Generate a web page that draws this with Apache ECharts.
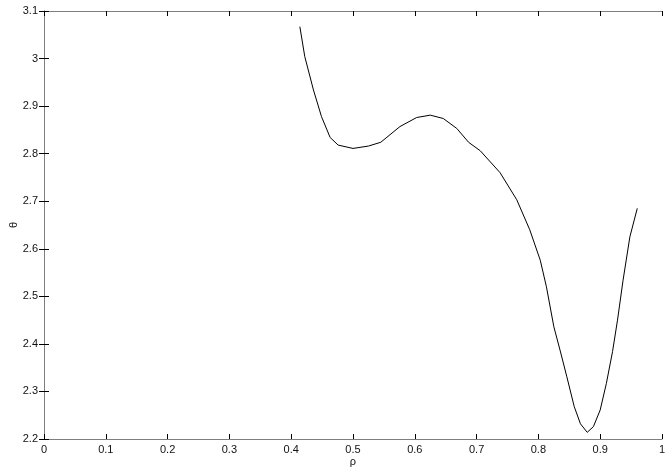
<!DOCTYPE html>
<html>
<head>
<meta charset="utf-8">
<script src="https://cdn.jsdelivr.net/npm/echarts@6/dist/echarts.min.js"></script>
<style>html,body{margin:0;padding:0;background:#fff}#c{width:671px;height:475px}</style>
</head>
<body>
<div id="c"></div>
<script>
var rho = [0.414, 0.422, 0.436, 0.449, 0.463, 0.476, 0.500, 0.525, 0.545, 0.576, 0.603, 0.625, 0.646, 0.668, 0.687, 0.706, 0.738, 0.765, 0.786, 0.803, 0.813, 0.825, 0.835, 0.846, 0.858, 0.868, 0.879, 0.889, 0.900, 0.910, 0.920, 0.928, 0.937, 0.948, 0.960];
var theta = [3.067, 3.004, 2.934, 2.878, 2.834, 2.818, 2.811, 2.816, 2.824, 2.857, 2.876, 2.881, 2.874, 2.853, 2.824, 2.806, 2.760, 2.703, 2.640, 2.576, 2.520, 2.436, 2.387, 2.331, 2.268, 2.232, 2.214, 2.226, 2.261, 2.317, 2.384, 2.450, 2.534, 2.625, 2.685];
var xName = 'ρ';
var yName = 'θ';

var pts = rho.map(function (r, i) { return [r, theta[i]]; });
var font = 'Liberation Sans, Arial, sans-serif';
var lineStyle = { color: '#7f7f7f', width: 1 };
var tickStyle = { color: '#000', width: 1 };

var chart = echarts.init(document.getElementById('c'), null, { renderer: 'canvas' });
chart.setOption({
  animation: false,
  backgroundColor: '#fff',
  grid: { left: 44, right: 9, top: 11, bottom: 36, containLabel: false, outerBoundsMode: 'none' },
  xAxis: [{
    type: 'value', min: 0, max: 1, interval: 0.1, position: 'bottom',
    name: xName, nameLocation: 'middle', nameGap: 17, nameMoveOverlap: false,
    nameTextStyle: { fontFamily: font, fontSize: 11, color: '#111' },
    axisLine: { show: true, lineStyle: lineStyle },
    axisTick: { show: true, inside: true, length: 5, lineStyle: tickStyle },
    axisLabel: { fontFamily: font, fontSize: 11, color: '#111', margin: 5,
      formatter: function (v) { return +v.toFixed(1) + ''; } },
    splitLine: { show: false }
  }, {
    type: 'value', min: 0, max: 1, interval: 0.1, position: 'top',
    axisLine: { show: true, lineStyle: lineStyle },
    axisTick: { show: true, inside: true, length: 5, lineStyle: tickStyle },
    axisLabel: { show: false }, splitLine: { show: false }
  }],
  yAxis: [{
    type: 'value', min: 2.2, max: 3.1, interval: 0.1, position: 'left',
    name: yName, nameLocation: 'middle', nameGap: 25, nameRotate: 90, nameMoveOverlap: false,
    nameTextStyle: { fontFamily: font, fontSize: 11, color: '#111' },
    axisLine: { show: true, lineStyle: lineStyle },
    axisTick: { show: true, inside: true, length: 5, lineStyle: tickStyle },
    axisLabel: { fontFamily: font, fontSize: 11, color: '#111', margin: 6,
      formatter: function (v) { return +v.toFixed(1) + ''; } },
    splitLine: { show: false }
  }, {
    type: 'value', min: 2.2, max: 3.1, interval: 0.1, position: 'right',
    axisLine: { show: true, lineStyle: lineStyle },
    axisTick: { show: true, inside: true, length: 5, lineStyle: tickStyle },
    axisLabel: { show: false }, splitLine: { show: false }
  }],
  series: [{
    type: 'line', xAxisIndex: 0, yAxisIndex: 0, data: pts,
    showSymbol: false, smooth: false,
    lineStyle: { color: '#000', width: 1 }
  }]
});
</script>
</body>
</html>
